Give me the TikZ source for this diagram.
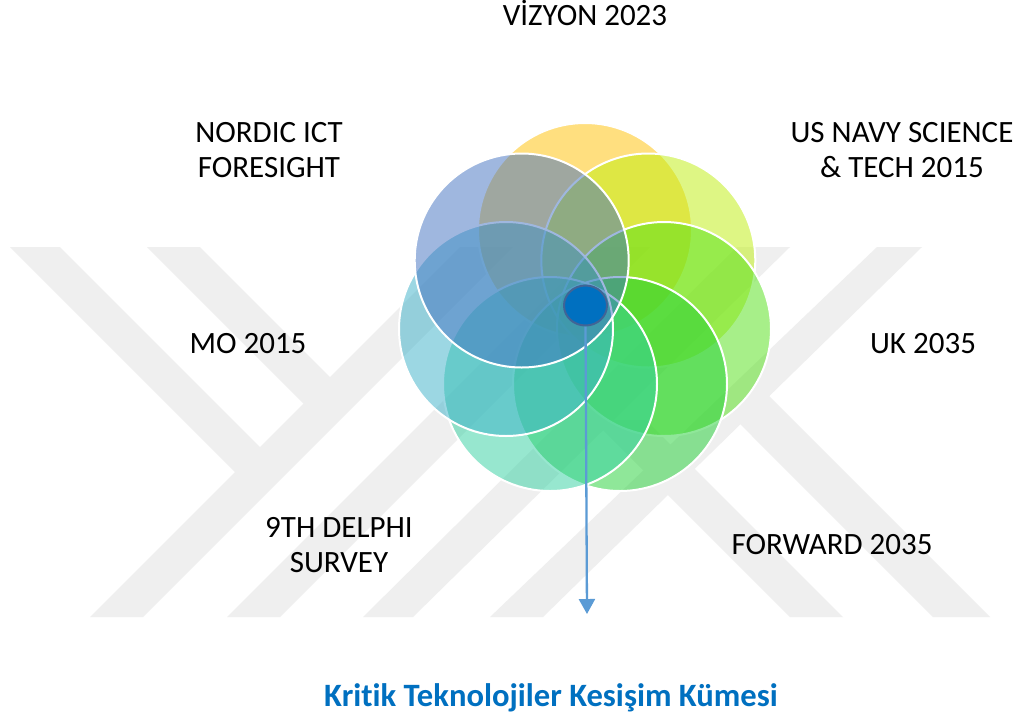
\documentclass[tikz,border=0pt]{standalone}
\usepackage{fontspec}
\setmainfont{Carlito}[Ligatures=NoCommon]
\usetikzlibrary{arrows.meta,shapes.geometric}
\definecolor{wm}{RGB}{239,239,239}
\definecolor{cviz}{RGB}{255,192,0}
\definecolor{cnavy}{RGB}{191,239,11}
\definecolor{cuk}{RGB}{81,225,21}
\definecolor{cfwd}{RGB}{33,209,53}
\definecolor{cdel}{RGB}{49,209,161}
\definecolor{cmo}{RGB}{59,177,201}
\definecolor{cnor}{RGB}{65,113,193}
\definecolor{kblue}{RGB}{0,112,192}
\definecolor{kborder}{RGB}{65,100,150}
\definecolor{arrowc}{RGB}{91,155,213}
\begin{document}
\begin{tikzpicture}[x=1pt,y=-1pt,
  bub/.style={circle, minimum size=214pt, inner sep=0pt, draw=white, line width=2pt, fill opacity=0.5},
  lbl/.style={font=\fontsize{31}{35}\selectfont, inner sep=0pt, align=center, text=black},
  band/.style={fill=wm}]
\useasboundingbox (0,0) rectangle (1019,724);
\fill[white] (0,0) rectangle (1019,724);
% watermark
\fill[band] (90,617) -- (143,617) -- (513,247) -- (460,247) -- cycle;
\fill[band] (10,247) -- (60,247) -- (270,457) -- (245,482) -- cycle;
\fill[band] (147,247) -- (200,247) -- (345,392) -- (320,420) -- cycle;
\fill[band] (227,617) -- (280,617) -- (650,247) -- (597,247) -- cycle;
\fill[band] (363,617) -- (413,617) -- (790,247) -- (737,247) -- cycle;
\fill[band] (490,617) -- (543,617) -- (922,247) -- (877,247) -- cycle;
\fill[band] (593,420) -- (646,420) -- (843,617) -- (790,617) -- cycle;
\fill[band] (725,409) -- (750,377) -- (990,617) -- (933,617) -- cycle;
% circles
\node[bub, fill=cviz]  (cviz)  at (585,230) {};
\node[bub, fill=cnavy] (cnavy) at (648.3,260.5) {};
\node[bub, fill=cuk]   (cuk)   at (664,329) {};
\node[bub, fill=cfwd]  (cfwd)  at (620,384) {};
\node[bub, fill=cdel]  (cdel)  at (550,384) {};
\node[bub, fill=cmo]   (cmo)   at (506,329) {};
\node[bub, fill=cnor]  (cnor)  at (521.7,260.5) {};
% core
\node[ellipse, minimum width=43pt, minimum height=40pt, inner sep=0pt, fill=kblue, draw=kborder, line width=2pt] (core) at (585.5,305.5) {};
\coordinate (tip) at (587,614);
\draw[arrowc, line width=2.3pt, -{Triangle[width=16pt,length=15pt]}] (core.south) -- (tip);
% labels
\node[lbl, anchor=base] (lviz) at (585,25) {VİZYON 2023};
\node[lbl, anchor=north] (lnor) at (269,122) {NORDIC ICT\\FORESIGHT};
\node[lbl, anchor=north] (lnavy) at (902,122) {US NAVY SCIENCE\\\& TECH 2015};
\node[lbl, anchor=base] (lmo) at (248,353) {MO 2015};
\node[lbl, anchor=base] (luk) at (923,353) {UK 2035};
\node[lbl, anchor=north] (ldel) at (339,517) {9TH DELPHI\\SURVEY};
\node[lbl, anchor=base] (lfwd) at (832,554) {FORWARD 2035};
\node[font=\fontsize{32.6}{36}\selectfont\bfseries, inner sep=0pt, text=kblue, anchor=base] (title) at (551,706) {Kritik Teknolojiler Kesişim Kümesi};
\end{tikzpicture}
\end{document}
